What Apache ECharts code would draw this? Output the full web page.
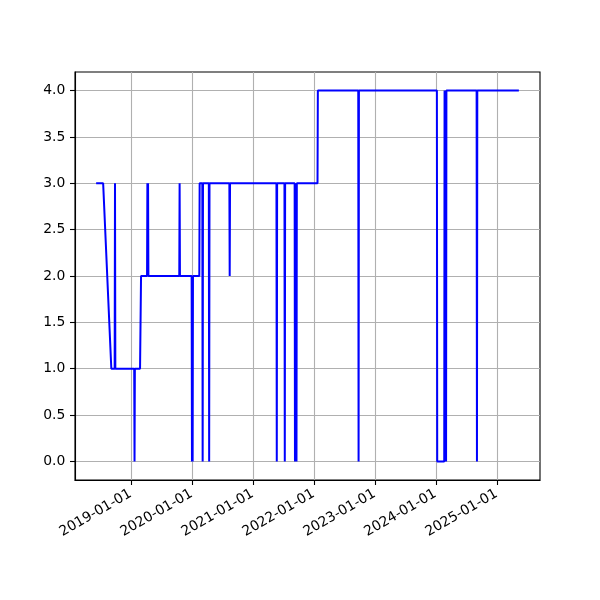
<!DOCTYPE html>
<html><head><meta charset="utf-8">
<script src="https://cdn.jsdelivr.net/npm/echarts@6/dist/echarts.min.js"></script>
<style>html,body{margin:0;padding:0;background:#fff}#c{width:600px;height:600px}</style>
</head><body><div id="c"></div>
<script>
const dates = [
  '2018-06-06','2018-07-18','2018-09-05','2018-09-25','2018-09-27','2018-09-29',
  '2019-01-20','2019-01-22','2019-01-24','2019-02-24','2019-03-02',
  '2019-04-07','2019-04-09','2019-04-11','2019-04-13','2019-04-15',
  '2019-10-17','2019-10-19','2019-10-21',
  '2019-12-30','2020-01-01','2020-01-03','2020-01-05','2020-01-07',
  '2020-02-14','2020-02-16','2020-03-03','2020-03-05','2020-03-07',
  '2020-04-11','2020-04-13','2020-04-15',
  '2020-08-12','2020-08-14','2020-08-16',
  '2021-05-21','2021-05-23','2021-05-25',
  '2021-07-08','2021-07-10','2021-07-12',
  '2021-09-07','2021-09-09','2021-09-11','2021-09-16','2021-09-18','2021-09-20',
  '2022-01-22','2022-01-24',
  '2022-09-23','2022-09-25','2022-09-27',
  '2024-01-07','2024-01-09','2024-02-20','2024-02-22','2024-03-02','2024-03-04',
  '2024-09-01','2024-09-03','2024-09-05',
  '2025-05-12'
];
const values = [
  3,3,1,1,3,1,
  1,0,1,1,2,
  2,3,2,3,2,
  2,3,2,
  2,0,2,0,2,
  2,3,3,0,3,
  3,0,3,
  3,2,3,
  3,0,3,
  3,0,3,
  3,0,3,3,0,3,
  3,4,
  4,0,4,
  4,0,0,4,0,4,
  4,0,4,
  4
];
const xTickLabels = ['2019-01-01','2020-01-01','2021-01-01','2022-01-01','2023-01-01','2024-01-01','2025-01-01'];
const yTickLabels = ['0.0','0.5','1.0','1.5','2.0','2.5','3.0','3.5','4.0'];

function ts(s){ const p = s.split('-').map(Number); return Date.UTC(p[0], p[1]-1, p[2]); }
const xs = dates.map(ts);
const xTicks = xTickLabels.map(ts);
const yTicks = yTickLabels.map(Number);
const data = xs.map((x, i) => [x, values[i]]);

const xMinD = Math.min(...xs), xMaxD = Math.max(...xs);
const xPad = (xMaxD - xMinD) * 0.05;
const yMinD = Math.min(...values), yMaxD = Math.max(...values);
const yPad = (yMaxD - yMinD) * 0.05;

function fmt(v){
  const d = new Date(v);
  const p = n => String(n).padStart(2,'0');
  return d.getUTCFullYear() + '-' + p(d.getUTCMonth()+1) + '-' + p(d.getUTCDate());
}

const font = 'DejaVu Sans';
const chart = echarts.init(document.getElementById('c'), null, {renderer:'canvas'});
chart.setOption({
  animation: false,
  backgroundColor: '#fff',
  grid: {left: 75, right: 60, top: 72, bottom: 120, show: true, borderColor: '#000', borderWidth: 1.1, backgroundColor: 'transparent'},
  xAxis: {
    type: 'value',
    min: xMinD - xPad, max: xMaxD + xPad,
    axisLine: {show: true, onZero: false, lineStyle: {color: '#000', width: 1.1}},
    axisTick: {show: true, customValues: xTicks, length: 5, lineStyle: {color: '#000', width: 1.1}},
    axisLabel: {show: true, customValues: xTicks, rotate: 30, margin: 12.5, padding: [0, 0.5, 0, 0],
      fontSize: 13.9, fontFamily: font, color: '#000', formatter: v => fmt(v), hideOverlap: false},
    splitLine: {show: true, lineStyle: {color: '#b0b0b0', width: 1.1}}
  },
  yAxis: {
    type: 'value',
    min: yMinD - yPad, max: yMaxD + yPad,
    axisLine: {show: true, onZero: false, lineStyle: {color: '#000', width: 1.1}},
    axisTick: {show: true, customValues: yTicks, length: 5, lineStyle: {color: '#000', width: 1.1}},
    axisLabel: {show: true, customValues: yTicks, margin: 9.7, fontSize: 13.9, fontFamily: font, color: '#000',
      formatter: v => v.toFixed(1)},
    splitLine: {show: true, lineStyle: {color: '#b0b0b0', width: 1.1}}
  },
  series: [{
    type: 'line', data: data, showSymbol: false, symbol: 'none',
    lineStyle: {color: '#0000ff', width: 2}, itemStyle: {color: '#0000ff'}, z: 3
  }]
});
</script></body></html>
